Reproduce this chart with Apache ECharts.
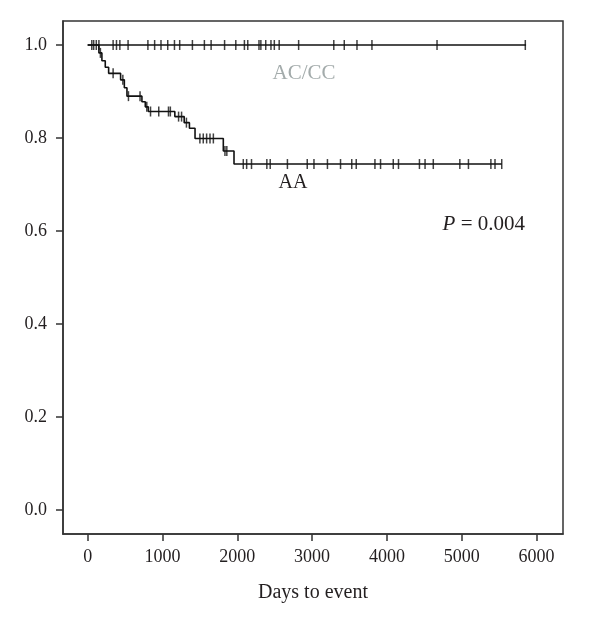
<!DOCTYPE html>
<html>
<head>
<meta charset="utf-8">
<script src="https://cdn.jsdelivr.net/npm/echarts@6/dist/echarts.min.js"></script>
<style>
html,body{margin:0;padding:0;background:#fff;}
#chart{width:600px;height:625px;}
</style>
</head>
<body>
<div id="chart"></div>
<script>
// ---- data ----
const xTicks = [0, 1000, 2000, 3000, 4000, 5000, 6000];
const yTicks = [0.0, 0.2, 0.4, 0.6, 0.8, 1.0];

// AC/CC: no events, survival stays 1.0
const accEnd = 5860;
const accCensor = [55, 80, 115, 150, 340, 385, 430, 540, 805, 895, 980, 1070, 1160, 1230,
  1400, 1560, 1650, 1830, 1980, 2095, 2140, 2290, 2315, 2380, 2450, 2495, 2560, 2820,
  3290, 3430, 3600, 3800, 4670, 5850];

// AA: event times and survival after each event
const aaEventTimes = [150, 190, 235, 280, 440, 490, 525, 725, 770, 810, 1165, 1290, 1360, 1435, 1813, 1956];
const aaSurvival   = [0.983, 0.966, 0.952, 0.939, 0.925, 0.908, 0.890, 0.878, 0.867, 0.857, 0.846, 0.833, 0.821, 0.799, 0.772, 0.744];
const aaEnd = 5535;
const aaCensor = [170, 340, 470, 545, 700, 790, 840, 950, 1080, 1105, 1215, 1255, 1320,
  1500, 1545, 1590, 1635, 1680, 1835, 1860, 2080, 2125, 2190, 2395, 2440, 2670, 2935,
  3025, 3205, 3380, 3530, 3590, 3840, 3915, 4085, 4155, 4435, 4510, 4620, 4975, 5090,
  5390, 5445, 5535];

// ---- helpers ----
function survAt(times, surv, t) {
  let s = 1;
  for (let i = 0; i < times.length; i++) if (times[i] <= t) s = surv[i];
  return s;
}
const accLine = [[0, 1], [accEnd, 1]];
const aaLine = [[0, 1]].concat(aaEventTimes.map((t, i) => [t, aaSurvival[i]])).concat([[aaEnd, aaSurvival[aaSurvival.length - 1]]]);
const accMarks = accCensor.map(t => [t, 1]);
const aaMarks = aaCensor.map(t => [t, survAt(aaEventTimes, aaSurvival, t)]);

const FONT = '"Liberation Serif", "Times New Roman", serif';
const TXT = '#231f20';

const chart = echarts.init(document.getElementById('chart'), null, {renderer: 'canvas'});
chart.setOption({
  animation: false,
  backgroundColor: '#fff',
  grid: {left: 63, right: 37, top: 21, bottom: 91, show: true, borderColor: '#333', borderWidth: 1.5, backgroundColor: 'transparent'},
  xAxis: {
    type: 'value', min: -330, max: 6354,
    axisLine: {show: true, onZero: false, lineStyle: {color: '#333', width: 1.5}},
    axisTick: {show: true, customValues: xTicks, length: 7, lineStyle: {color: '#333', width: 1.5}},
    axisLabel: {customValues: xTicks, fontFamily: FONT, fontSize: 18, color: TXT, margin: 14,
      formatter: v => String(v)},
    splitLine: {show: false},
    name: 'Days to event', nameLocation: 'middle', nameGap: 49,
    nameTextStyle: {fontFamily: FONT, fontSize: 20, color: TXT}
  },
  yAxis: {
    type: 'value', min: -0.0516, max: 1.0516,
    axisLine: {show: true, onZero: false, lineStyle: {color: '#333', width: 1.5}},
    axisTick: {show: true, customValues: yTicks, length: 7, lineStyle: {color: '#333', width: 1.5}},
    axisLabel: {customValues: yTicks, fontFamily: FONT, fontSize: 18, color: TXT, margin: 16,
      formatter: v => v.toFixed(1)},
    splitLine: {show: false}
  },
  graphic: [
    {type: 'text', style: {text: 'AC/CC', x: 304, y: 73, textAlign: 'center', textVerticalAlign: 'middle',
      font: '21px ' + FONT, fill: '#a3abab'}},
    {type: 'text', style: {text: 'AA', x: 293, y: 183, textAlign: 'center', textVerticalAlign: 'middle',
      font: '20px ' + FONT, fill: TXT}},
    {type: 'text', style: {text: '{i|P} = 0.004', x: 525, y: 224, textAlign: 'right', textVerticalAlign: 'middle',
      font: '21px ' + FONT, fill: TXT,
      rich: {i: {fontStyle: 'italic', fontFamily: FONT, fontSize: 21, fill: TXT}}}}
  ],
  series: [
    {name: 'AC/CC', type: 'line', data: accLine, step: 'end', symbol: 'none',
      lineStyle: {color: '#111', width: 1.6}},
    {name: 'AA', type: 'line', data: aaLine, step: 'end', symbol: 'none',
      lineStyle: {color: '#111', width: 1.6}},
    {type: 'scatter', data: accMarks, symbol: 'rect', symbolSize: [1.5, 10],
      itemStyle: {color: '#111'}},
    {type: 'scatter', data: aaMarks, symbol: 'rect', symbolSize: [1.5, 10],
      itemStyle: {color: '#111'}}
  ]
});
</script>
</body>
</html>
